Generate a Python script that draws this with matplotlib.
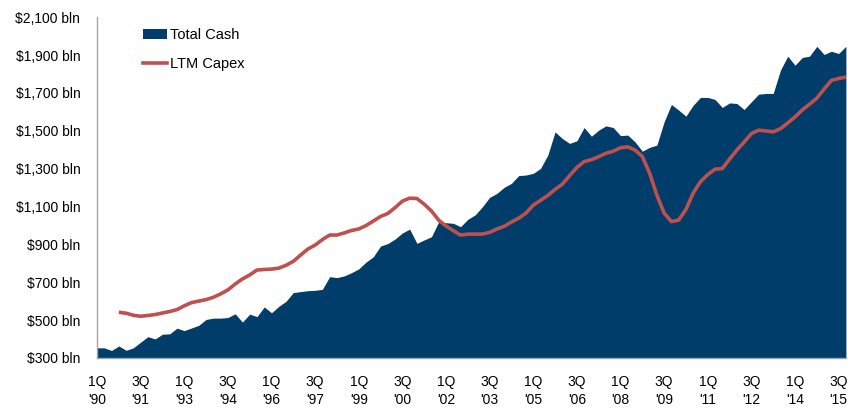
import matplotlib
matplotlib.use('Agg')
import matplotlib.pyplot as plt
import numpy as np
from matplotlib.lines import Line2D
from matplotlib.patches import Patch

plt.rcParams['font.family'] = ['Liberation Sans', 'DejaVu Sans']

# quarterly data, 1Q'90 .. 4Q'15 ($ bln)
total_cash = [353, 353, 339, 363, 340, 353, 383, 412, 400, 425,
              427, 457, 444, 458, 472, 503, 510, 510, 513, 533,
              489, 531, 518, 569, 538, 572, 599, 645, 650, 655,
              657, 662, 729, 724, 733, 750, 770, 806, 834, 891,
              904, 928, 960, 980, 905, 923, 940, 1019, 1014, 1011,
              993, 1032, 1055, 1098, 1148, 1169, 1201, 1222, 1263, 1266,
              1275, 1301, 1371, 1494, 1459, 1433, 1447, 1517, 1471, 1503,
              1526, 1517, 1474, 1477, 1441, 1392, 1412, 1424, 1547, 1639,
              1609, 1577, 1635, 1676, 1676, 1665, 1623, 1647, 1644, 1612,
              1653, 1693, 1697, 1697, 1820, 1894, 1846, 1887, 1894, 1946,
              1903, 1920, 1908, 1946]

ltm_capex = [np.nan, np.nan, np.nan, 541, 536, 525, 520, 524, 529, 537,
             545, 555, 575, 592, 600, 608, 620, 638, 659, 690,
             717, 738, 764, 767, 769, 774, 789, 810, 843, 875,
             896, 925, 949, 949, 960, 973, 981, 999, 1023, 1047,
             1063, 1094, 1128, 1144, 1142, 1112, 1076, 1027, 997, 972,
             949, 954, 954, 954, 963, 981, 995, 1018, 1038, 1065,
             1107, 1132, 1158, 1190, 1218, 1263, 1306, 1337, 1347, 1363,
             1381, 1392, 1410, 1415, 1398, 1364, 1276, 1160, 1065, 1020,
             1028, 1084, 1171, 1231, 1268, 1297, 1300, 1350, 1398, 1440,
             1485, 1503, 1499, 1494, 1511, 1541, 1573, 1610, 1640, 1672,
             1720, 1766, 1776, 1784]

quarters = [f"{i % 4 + 1}Q\n'{(1990 + i // 4) % 100:02d}" for i in range(len(total_cash))]
y_ticks = list(range(300, 2101, 200))

navy = '#003D6A'
red = '#C0504D'
grey = '#A6A6A6'

fig = plt.figure(figsize=(8.51, 4.09), dpi=100)
ax = fig.add_axes([0.114, 0.125, 0.880, 0.833])

x = np.arange(len(total_cash))
ax.fill_between(x, total_cash, 0, color=navy, linewidth=0)
ax.plot(x, ltm_capex, color=red, linewidth=2.6, solid_capstyle='butt')

ax.set_xlim(0, len(total_cash) - 1)
ax.set_ylim(300, 2100)

ax.set_yticks(y_ticks)
ax.set_yticklabels([f'${v:,} bln' for v in y_ticks])
ax.set_xticks(x[::6])
ax.set_xticklabels(quarters[::6], linespacing=1.45)
ax.tick_params(axis='both', length=0, labelsize=10, colors='black')
ax.tick_params(axis='y', pad=12)
ax.tick_params(axis='x', pad=12)

for s in ['top', 'right']:
    ax.spines[s].set_visible(False)
for s in ['left', 'bottom']:
    ax.spines[s].set_color(grey)
    ax.spines[s].set_linewidth(1.0)

handles = [Patch(facecolor=navy, edgecolor='none', label='Total Cash'),
           Line2D([0], [0], color=red, linewidth=2.6, label='LTM Capex')]
ax.legend(handles=handles, loc='upper left', bbox_to_anchor=(0.061, 0.968),
          frameon=False, fontsize=10.5, handlelength=1.65, handleheight=0.65,
          handletextpad=0.2, labelspacing=1.0, borderpad=0, borderaxespad=0)

fig.savefig('out.png', dpi=100)
